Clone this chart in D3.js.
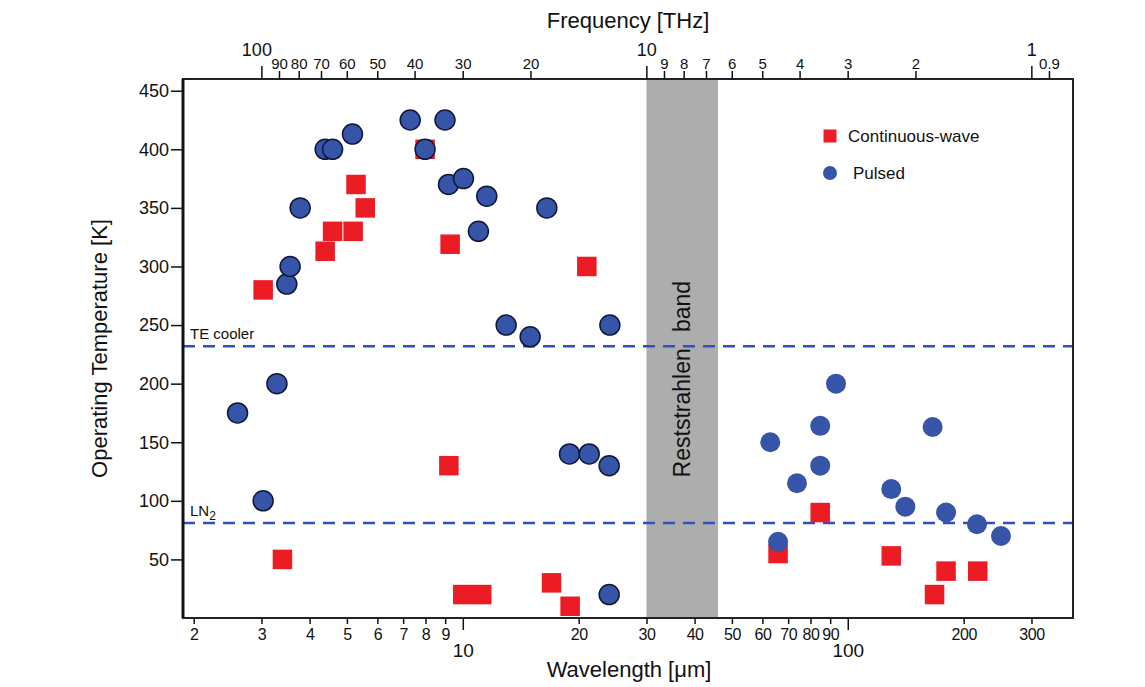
<!DOCTYPE html>
<html>
<head>
<meta charset="utf-8">
<script src="https://cdn.jsdelivr.net/npm/d3@7"></script>
<style>
    body { margin: 0; background: #fff; }
    .axis text { font-family: "Liberation Sans", Arial, sans-serif; fill: #111; }
    .axis .domain { display: none; }
    .axis line { stroke: #111; stroke-width: 1.5; }
    .title { font-family: "Liberation Sans", Arial, sans-serif; font-size: 22px; fill: #111; }
</style>
</head>
<body>
<script>
//continuous-wave devices: wavelength [um] and operating temperature [K]
var cwWavelength = [3.03, 4.39, 4.59, 5.19, 5.28, 5.58, 7.98, 9.27, 21.0, 3.40, 9.20, 10.0, 11.2, 17.0, 19.0, 65.9, 84.8, 129.7, 168, 180, 217.6];
var cwTemp       = [280, 313, 330, 330, 370, 350, 400, 319, 300, 50, 130, 20, 20, 30, 10, 55, 90, 53, 20, 40, 40];

//pulsed devices
var pulsedWavelength = [2.60, 3.03, 3.29, 3.49, 3.56, 3.78, 4.39, 4.59, 5.17, 7.30, 7.98, 8.99, 9.18, 10.04, 10.98, 11.54, 12.96, 14.96, 16.53, 18.93, 21.3, 24.0, 24.0, 24.1, 62.9, 65.9, 73.8, 84.8, 84.8, 93.2, 129.7, 141.1, 166.1, 180, 216.6, 250];
var pulsedTemp       = [175, 100, 200, 285, 300, 350, 400, 400, 413, 425, 400, 425, 370, 375, 330, 360, 250, 240, 350, 140, 140, 130, 20, 250, 150, 65, 115, 164, 130, 200, 110, 95, 163, 90, 80, 70];

//tick labels
var tempTicks = [50, 100, 150, 200, 250, 300, 350, 400, 450];
var wlMinorTicks = [2, 3, 4, 5, 6, 7, 8, 9, 20, 30, 40, 50, 60, 70, 80, 90, 200, 300];
var wlMajorTicks = [10, 100];
var freqMinorTicks = [90, 80, 70, 60, 50, 40, 30, 20, 9, 8, 7, 6, 5, 4, 3, 2, 0.9];
var freqMajorTicks = [100, 10, 1];

//reference levels and the Reststrahlen band
var refLevels = [232, 81];
var refNames = ["TE cooler", "LN"];
var bandRange = [30, 46];

(function(){

    var width = 1145, height = 687;
    var left = 183, right = 1073, top = 79, bottom = 618;
    var c = 299.79; //um*THz

    var svg = d3.select("body")
        .append("svg")
        .attr("width", width)
        .attr("height", height);

    //scales
    var x = d3.scaleLog()
        .domain([1.876, 384.6])
        .range([left, right]);

    var xf = d3.scaleLog()
        .domain([c / 1.876, c / 384.6])
        .range([left, right]);

    var y = d3.scaleLinear()
        .domain([0, 460])
        .range([bottom, top]);

    //Reststrahlen band
    svg.append("rect")
        .attr("x", x(bandRange[0]))
        .attr("y", top)
        .attr("width", x(bandRange[1]) - x(bandRange[0]))
        .attr("height", bottom - top)
        .style("fill", "#adadad");

    var bandMid = (x(bandRange[0]) + x(bandRange[1])) / 2 + 8;
    svg.append("text")
        .attr("transform", "translate(" + bandMid + "," + y(120) + ") rotate(-90)")
        .style("font-family", "Liberation Sans, Arial, sans-serif")
        .style("font-size", "23px")
        .style("fill", "#111")
        .text("Reststrahlen");
    svg.append("text")
        .attr("transform", "translate(" + bandMid + "," + y(244) + ") rotate(-90)")
        .style("font-family", "Liberation Sans, Arial, sans-serif")
        .style("font-size", "23px")
        .style("fill", "#111")
        .text("band");

    //dashed reference lines
    svg.selectAll(".refLine")
        .data(refLevels)
        .enter()
        .append("line")
        .attr("class", "refLine")
        .attr("x1", left)
        .attr("x2", right)
        .attr("y1", function(d){ return y(d); })
        .attr("y2", function(d){ return y(d); })
        .style("stroke", "#2f50c0")
        .style("stroke-width", 2.5)
        .style("stroke-dasharray", "12,8");

    var refText = svg.selectAll(".refText")
        .data(refLevels)
        .enter()
        .append("text")
        .attr("class", "refText")
        .attr("x", left + 7)
        .attr("y", function(d){ return y(d) - 7; })
        .style("font-family", "Liberation Sans, Arial, sans-serif")
        .style("font-size", "15px")
        .style("fill", "#111")
        .text(function(d, i){ return refNames[i]; });
    refText.filter(function(d, i){ return i == 1; })
        .append("tspan")
        .attr("dy", 4)
        .style("font-size", "12px")
        .text("2");

    //continuous-wave squares
    var sq = 19.5;
    svg.selectAll(".cw")
        .data(cwWavelength)
        .enter()
        .append("rect")
        .attr("class", "cw")
        .attr("x", function(d){ return x(d) - sq / 2; })
        .attr("y", function(d, i){ return y(cwTemp[i]) - sq / 2; })
        .attr("width", sq)
        .attr("height", sq)
        .style("fill", "#ec1c24");

    //pulsed circles
    svg.selectAll(".pulsed")
        .data(pulsedWavelength)
        .enter()
        .append("circle")
        .attr("class", "pulsed")
        .attr("cx", function(d){ return x(d); })
        .attr("cy", function(d, i){ return y(pulsedTemp[i]); })
        .attr("r", 10)
        .style("fill", "#3654a8")
        .style("stroke", function(d){ return d < 30 ? "#10183a" : "none"; })
        .style("stroke-width", 1.5);

    //frame
    svg.append("rect")
        .attr("x", left)
        .attr("y", top)
        .attr("width", right - left)
        .attr("height", bottom - top)
        .style("fill", "none")
        .style("stroke", "#222")
        .style("stroke-width", 2);
    svg.append("line")
        .attr("x1", left).attr("x2", left)
        .attr("y1", top).attr("y2", bottom)
        .style("stroke", "#111")
        .style("stroke-width", 3);

    //bottom wavelength axis
    svg.append("g")
        .attr("class", "axis")
        .attr("transform", "translate(0," + bottom + ")")
        .call(d3.axisBottom(x).tickValues(wlMinorTicks).tickSize(6).tickPadding(5).tickFormat(d3.format("d")))
        .selectAll("text").style("font-size", "16px").style("letter-spacing", "-0.5px");
    svg.append("g")
        .attr("class", "axis")
        .attr("transform", "translate(0," + bottom + ")")
        .call(d3.axisBottom(x).tickValues(wlMajorTicks).tickSize(12).tickPadding(14).tickFormat(d3.format("d")))
        .selectAll("text").style("font-size", "19px");

    //top frequency axis
    svg.append("g")
        .attr("class", "axis")
        .attr("transform", "translate(0," + top + ")")
        .call(d3.axisTop(xf).tickValues(freqMinorTicks).tickSize(8).tickPadding(2).tickFormat(function(d){ return d < 1 ? d3.format(".1f")(d) : d3.format("d")(d); }))
        .selectAll("text").style("font-size", "15px");
    svg.append("g")
        .attr("class", "axis")
        .attr("transform", "translate(0," + top + ")")
        .call(d3.axisTop(xf).tickValues(freqMajorTicks).tickSize(13).tickPadding(10).tickFormat(d3.format("d")))
        .selectAll("text")
        .style("font-size", "18px")
        .attr("dx", function(d){ return d == 100 ? -5 : 0; });

    //left temperature axis
    svg.append("g")
        .attr("class", "axis")
        .attr("transform", "translate(" + left + ",0)")
        .call(d3.axisLeft(y).tickValues(tempTicks).tickSize(12).tickPadding(2))
        .selectAll("text").style("font-size", "18px");

    //axis titles
    svg.append("text")
        .attr("class", "title")
        .attr("x", 628)
        .attr("y", 28)
        .attr("text-anchor", "middle")
        .text("Frequency [THz]");
    svg.append("text")
        .attr("class", "title")
        .attr("x", 629)
        .attr("y", 677)
        .attr("text-anchor", "middle")
        .text("Wavelength [\u03bcm]");
    svg.append("text")
        .attr("class", "title")
        .attr("transform", "translate(107," + (top + bottom) / 2 + ") rotate(-90)")
        .attr("text-anchor", "middle")
        .text("Operating Temperature [K]");

    //legend
    var legend = svg.append("g").attr("class", "legend");
    legend.append("rect")
        .attr("x", 823.5).attr("y", 129.5)
        .attr("width", 13).attr("height", 13)
        .style("fill", "#ec1c24");
    legend.append("text")
        .attr("x", 848).attr("y", 142)
        .style("font-family", "Liberation Sans, Arial, sans-serif")
        .style("font-size", "17px")
        .style("fill", "#111")
        .text("Continuous-wave");
    legend.append("circle")
        .attr("cx", 830).attr("cy", 173)
        .attr("r", 7)
        .style("fill", "#3654a8");
    legend.append("text")
        .attr("x", 853).attr("y", 179)
        .style("font-family", "Liberation Sans, Arial, sans-serif")
        .style("font-size", "17px")
        .style("fill", "#111")
        .text("Pulsed");

})();
</script>
</body>
</html>
